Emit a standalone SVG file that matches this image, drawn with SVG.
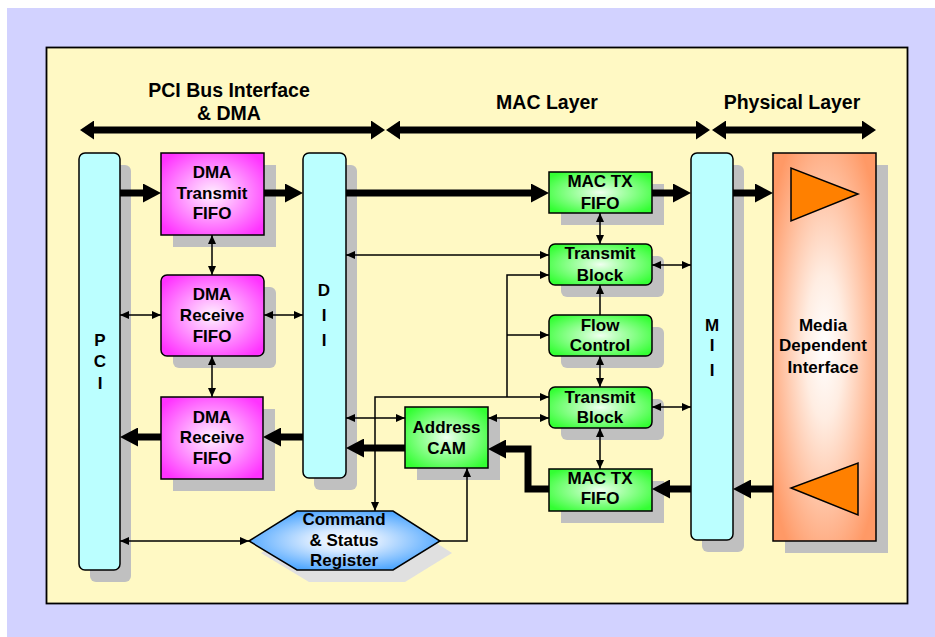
<svg xmlns="http://www.w3.org/2000/svg" width="935" height="637" viewBox="0 0 935 637">
<defs>
<style>
text{font-family:"Liberation Sans",Arial,sans-serif;font-weight:bold;fill:#000;text-anchor:middle}
.t{font-size:17px}
.h{font-size:19.5px}
.bar{fill:#BBFFFF;stroke:#000;stroke-width:1.5}
.sh{fill:#C0C0C0}
.mag{fill:url(#gMag);stroke:#000;stroke-width:1.5}
.grn{fill:url(#gGrn);stroke:#000;stroke-width:1.5}
.thin{fill:none;stroke:#000;stroke-width:1.5}
.thick{fill:none;stroke:#000;stroke-width:7}
.hdr{fill:none;stroke:#000;stroke-width:7}
</style>
<radialGradient id="gMag" cx="0.5" cy="0.5" r="0.62">
<stop offset="0" stop-color="#FFF0FF"/>
<stop offset="0.35" stop-color="#FFB0FF"/>
<stop offset="1" stop-color="#FF33FF"/>
</radialGradient>
<radialGradient id="gGrn" cx="0.5" cy="0.5" r="0.62">
<stop offset="0" stop-color="#F0FFF0"/>
<stop offset="0.35" stop-color="#A8FFA8"/>
<stop offset="1" stop-color="#33FF33"/>
</radialGradient>
<radialGradient id="gBlue" cx="0.5" cy="0.5" r="0.6">
<stop offset="0" stop-color="#FFFFFF"/>
<stop offset="0.3" stop-color="#D8EAFF"/>
<stop offset="1" stop-color="#3399FF"/>
</radialGradient>
<radialGradient id="gOra" cx="0.5" cy="0.5" r="0.62">
<stop offset="0" stop-color="#FFFFFF"/>
<stop offset="0.3" stop-color="#FFEDE2"/>
<stop offset="1" stop-color="#FF9966"/>
</radialGradient>
<marker id="a" markerUnits="userSpaceOnUse" markerWidth="9" markerHeight="8" viewBox="0 0 9 8" refX="9" refY="4" orient="auto-start-reverse">
<path d="M0,0 L9,4 L0,8 z" fill="#000"/>
</marker>
<marker id="A" markerUnits="userSpaceOnUse" markerWidth="18" markerHeight="19" viewBox="0 0 18 19" refX="0" refY="9.5" orient="auto-start-reverse">
<path d="M0,0 L18,9.5 L0,19 z" fill="#000"/>
</marker>
<marker id="H" markerUnits="userSpaceOnUse" markerWidth="14" markerHeight="19" viewBox="0 0 14 19" refX="0" refY="9.5" orient="auto-start-reverse">
<path d="M0,0 L14,9.5 L0,19 z" fill="#000"/>
</marker>
</defs>

<rect x="0" y="0" width="935" height="637" fill="#FFFFFF"/>
<rect x="7" y="8" width="928" height="629" fill="#D2D2FF"/>
<rect x="46.5" y="47.5" width="861" height="556" fill="#FFF9C4" stroke="#000" stroke-width="1.8"/>

<g id="headers">
<text class="h" x="229" y="97">PCI Bus Interface</text>
<text class="h" x="229" y="120">&amp; DMA</text>
<text class="h" x="547" y="109">MAC Layer</text>
<text class="h" x="792" y="109">Physical Layer</text>
<path class="hdr" d="M94,130 H371" marker-start="url(#H)" marker-end="url(#H)"/>
<path class="hdr" d="M400,130 H696" marker-start="url(#H)" marker-end="url(#H)"/>
<path class="hdr" d="M726,130 H862" marker-start="url(#H)" marker-end="url(#H)"/>
</g>

<g id="pci">
<rect class="sh" x="90" y="165" width="41" height="417" rx="6"/>
<rect class="bar" x="79" y="153" width="41" height="417" rx="6"/>
<text class="t" x="100" y="346">P</text>
<text class="t" x="100" y="367">C</text>
<text class="t" x="100" y="389">I</text>
</g>

<g id="dma-tx">
<rect class="sh" x="173" y="165" width="103" height="82"/>
<rect class="mag" x="161" y="153" width="103" height="82"/>
<text class="t" x="212" y="178">DMA</text>
<text class="t" x="212" y="199">Transmit</text>
<text class="t" x="212" y="219">FIFO</text>
</g>

<g id="dma-rx1">
<rect class="sh" x="173" y="287" width="103" height="81" rx="6"/>
<rect class="mag" x="161" y="275" width="103" height="81" rx="6"/>
<text class="t" x="212" y="300">DMA</text>
<text class="t" x="212" y="321">Receive</text>
<text class="t" x="212" y="342">FIFO</text>
</g>

<g id="dma-rx2">
<rect class="sh" x="173" y="409" width="102" height="82"/>
<rect class="mag" x="161" y="397" width="102" height="82"/>
<text class="t" x="212" y="423">DMA</text>
<text class="t" x="212" y="443">Receive</text>
<text class="t" x="212" y="464">FIFO</text>
</g>

<g id="dii">
<rect class="sh" x="314" y="165" width="43" height="325" rx="6"/>
<rect class="bar" x="303" y="153" width="43" height="325" rx="6"/>
<text class="t" x="324" y="296">D</text>
<text class="t" x="324" y="321">I</text>
<text class="t" x="324" y="346">I</text>
</g>

<g id="mac-tx-fifo-top">
<rect class="sh" x="561" y="184" width="103" height="41"/>
<rect class="grn" x="549" y="172" width="103" height="41"/>
<text class="t" x="600" y="187">MAC TX</text>
<text class="t" x="600" y="209">FIFO</text>
</g>

<g id="transmit-block-top">
<rect class="sh" x="561" y="256" width="103" height="41" rx="6"/>
<rect class="grn" x="549" y="244" width="103" height="41" rx="6"/>
<text class="t" x="600" y="259">Transmit</text>
<text class="t" x="600" y="281">Block</text>
</g>

<g id="flow-control">
<rect class="sh" x="561" y="327" width="103" height="41" rx="6"/>
<rect class="grn" x="549" y="315" width="103" height="41" rx="6"/>
<text class="t" x="600" y="331">Flow</text>
<text class="t" x="600" y="351">Control</text>
</g>

<g id="transmit-block-bottom">
<rect class="sh" x="561" y="399" width="103" height="41" rx="6"/>
<rect class="grn" x="549" y="387" width="103" height="41" rx="6"/>
<text class="t" x="600" y="403">Transmit</text>
<text class="t" x="600" y="423">Block</text>
</g>

<g id="mac-tx-fifo-bottom">
<rect class="sh" x="561" y="481" width="103" height="42"/>
<rect class="grn" x="549" y="469" width="103" height="42"/>
<text class="t" x="600" y="484">MAC TX</text>
<text class="t" x="600" y="504">FIFO</text>
</g>

<g id="address-cam">
<rect class="sh" x="417" y="419" width="83" height="61"/>
<rect class="grn" x="405" y="407" width="83" height="61"/>
<text class="t" x="446.5" y="433">Address</text>
<text class="t" x="446.5" y="454">CAM</text>
</g>

<g id="csr">
<polygon points="261,553 309,523 405,523 452,553 405,582 309,582" fill="#E0E0E0"/>
<polygon points="249,541 297,511 393,511 440,541 393,570 297,570" fill="url(#gBlue)" stroke="#000" stroke-width="1.5"/>
<text class="t" x="344" y="525">Command</text>
<text class="t" x="344" y="546">&amp; Status</text>
<text class="t" x="344" y="566">Register</text>
</g>

<g id="mii">
<rect class="sh" x="702" y="165" width="42" height="387" rx="6"/>
<rect class="bar" x="691" y="153" width="42" height="387" rx="6"/>
<text class="t" x="712" y="331">M</text>
<text class="t" x="712" y="351">I</text>
<text class="t" x="712" y="376">I</text>
</g>

<g id="mdi">
<rect class="sh" x="785" y="165" width="103" height="388"/>
<rect x="773" y="153" width="103" height="388" fill="url(#gOra)" stroke="#000" stroke-width="1.5"/>
<polygon points="791,168 791,221 858,194" fill="#FF8000" stroke="#000" stroke-width="1.5"/>
<polygon points="858,463 858,515 791,488" fill="#FF8000" stroke="#000" stroke-width="1.5"/>
<text class="t" x="823" y="331">Media</text>
<text class="t" x="823" y="351">Dependent</text>
<text class="t" x="823" y="373">Interface</text>
</g>

<g id="connectors">
<path class="thick" d="M120,193 H143" marker-end="url(#A)"/>
<path class="thick" d="M264,193 H285" marker-end="url(#A)"/>
<path class="thick" d="M346,193 H531" marker-end="url(#A)"/>
<path class="thick" d="M652,193 H673" marker-end="url(#A)"/>
<path class="thick" d="M733,193 H755" marker-end="url(#A)"/>
<path class="thick" d="M773,489 H751" marker-end="url(#A)"/>
<path class="thick" d="M691,489 H670" marker-end="url(#A)"/>
<path class="thick" d="M549,489 H528 V449 H506" marker-end="url(#A)"/>
<path class="thick" d="M405,448 H364" marker-end="url(#A)"/>
<path class="thick" d="M303,437 H281" marker-end="url(#A)"/>
<path class="thick" d="M161,437 H138" marker-end="url(#A)"/>

<path class="thin" d="M212,235 V275" marker-start="url(#a)" marker-end="url(#a)"/>
<path class="thin" d="M212,356 V397" marker-start="url(#a)" marker-end="url(#a)"/>
<path class="thin" d="M120,315 H161" marker-start="url(#a)" marker-end="url(#a)"/>
<path class="thin" d="M264,315 H303" marker-start="url(#a)" marker-end="url(#a)"/>
<path class="thin" d="M346,255 H549" marker-start="url(#a)" marker-end="url(#a)"/>
<path class="thin" d="M346,418 H405" marker-start="url(#a)" marker-end="url(#a)"/>
<path class="thin" d="M488,418 H549" marker-start="url(#a)" marker-end="url(#a)"/>
<path class="thin" d="M652,265 H691" marker-start="url(#a)" marker-end="url(#a)"/>
<path class="thin" d="M652,407 H691" marker-start="url(#a)" marker-end="url(#a)"/>
<path class="thin" d="M600,213 V244" marker-start="url(#a)" marker-end="url(#a)"/>
<path class="thin" d="M600,315 V285" marker-end="url(#a)"/>
<path class="thin" d="M600,356 V387" marker-start="url(#a)" marker-end="url(#a)"/>
<path class="thin" d="M600,428 V469" marker-start="url(#a)" marker-end="url(#a)"/>
<path class="thin" d="M549,397 H375 V511" marker-start="url(#a)" marker-end="url(#a)"/>
<path class="thin" d="M507,397 V275 H549" marker-end="url(#a)"/>
<path class="thin" d="M507,335 H549" marker-end="url(#a)"/>
<path class="thin" d="M120,541 H249" marker-start="url(#a)" marker-end="url(#a)"/>
<path class="thin" d="M440,541 H467 V468" marker-end="url(#a)"/>
</g>
</svg>
